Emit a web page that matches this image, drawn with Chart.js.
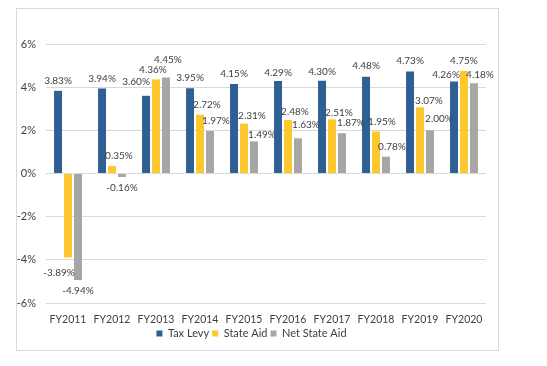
<!DOCTYPE html>
<html>
<head>
<meta charset="utf-8">
<script src="https://cdn.jsdelivr.net/npm/chart.js@4"></script>
<style>
  html, body { margin: 0; padding: 0; background: #fff; }
  #box { position: absolute; left: 16px; top: 8px; width: 481px; height: 341px; border: 1px solid #d9d9d9; }
  canvas { display: block; }
</style>
</head>
<body>
<div id="box"><canvas id="chart" width="481" height="341"></canvas></div>
<script>
// categorias e valores (% de variação anual)
const years = ['FY2011', 'FY2012', 'FY2013', 'FY2014', 'FY2015', 'FY2016', 'FY2017', 'FY2018', 'FY2019', 'FY2020'];
const taxLevy = [3.83, 3.94, 3.60, 3.95, 4.15, 4.29, 4.30, 4.48, 4.73, 4.26];
const stateAid = [-3.89, 0.35, 4.36, 2.72, 2.31, 2.48, 2.51, 1.95, 3.07, 4.75];
const netStateAid = [-4.94, -0.16, 4.45, 1.97, 1.49, 1.63, 1.87, 0.78, 2.00, 4.18];
const yTicks = [-6, -4, -2, 0, 2, 4, 6];

// deslocamento dos rótulos (dx, dy) em px, como o Excel os posicionou
const labelShift = [
  [[0,0],[0,0],[-10,-4],[0,0],[0,0],[0,2],[0,1],[0,-1],[0,-1],[-8,3]],
  [[-9,4],[7,0],[-3,0],[7,0],[8,2],[7,2],[7,3],[6,0],[9,4],[0,0]],
  [[0,0],[0,0],[2,-8],[6,0],[8,3],[8,-4],[9,0],[6,0],[9,-2],[6,1]]
];

const valueLabels = {
  id: 'valueLabels',
  afterDatasetsDraw(chart) {
    const ctx = chart.ctx;
    ctx.save();
    ctx.font = '10px Lato';
    ctx.fillStyle = '#404040';
    ctx.textAlign = 'center';
    ctx.textBaseline = 'middle';
    chart.data.datasets.forEach((ds, i) => {
      chart.getDatasetMeta(i).data.forEach((bar, j) => {
        const v = ds.data[j];
        const [dx, dy] = labelShift[i][j];
        const y = v >= 0 ? bar.y - 10 : bar.y + 11;
        ctx.fillText(v.toFixed(2) + '%', bar.x + dx, y + dy);
      });
    });
    ctx.restore();
  }
};

new Chart(document.getElementById('chart'), {
  type: 'bar',
  data: {
    labels: years,
    datasets: [
      { label: 'Tax Levy', data: taxLevy, backgroundColor: '#2e6094' },
      { label: 'State Aid', data: stateAid, backgroundColor: '#ffc82e' },
      { label: 'Net State Aid', data: netStateAid, backgroundColor: '#a6a6a6' }
    ]
  },
  options: {
    responsive: false,
    animation: false,
    categoryPercentage: 0.68,
    barPercentage: 0.8,
    layout: { padding: { top: 35, right: 12, bottom: 1, left: 0 } },
    scales: {
      x: {
        grid: { display: false, drawTicks: false },
        border: { display: false },
        afterFit: s => { s.height = 22; },
        ticks: { color: '#404040', font: { family: 'Lato', size: 10.5 }, padding: 10, maxRotation: 0 }
      },
      y: {
        min: -6, max: 6,
        afterBuildTicks: s => { s.ticks = yTicks.map(v => ({ value: v })); },
        afterFit: s => { s.width = 29; },
        grid: { color: '#d9d9d9', drawTicks: false },
        border: { display: false },
        ticks: { color: '#404040', font: { family: 'Lato', size: 11 }, padding: 10, callback: v => v + '%' }
      }
    },
    plugins: {
      legend: {
        position: 'bottom',
        labels: { color: '#404040', font: { family: 'Lato', size: 11 }, boxWidth: 6, boxHeight: 6, padding: 3 }
      },
      tooltip: { enabled: false }
    }
  },
  plugins: [valueLabels]
});
</script>
</body>
</html>
